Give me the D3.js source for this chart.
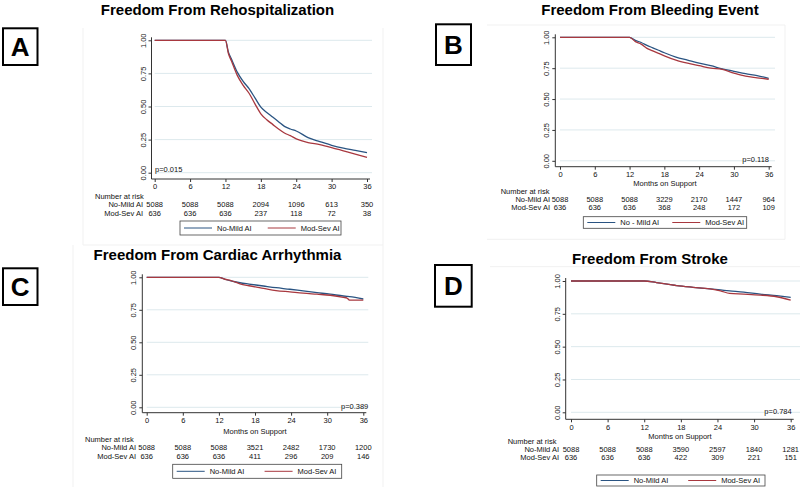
<!DOCTYPE html>
<html><head><meta charset="utf-8">
<script src="https://cdn.jsdelivr.net/npm/d3@7"></script>
<style>body{margin:0;background:#fff}svg{display:block;font-family:"Liberation Sans",Arial,Helvetica,sans-serif}</style>
</head><body><svg id="c" width="800" height="487"></svg>
<script>
// ---------- data ----------
const xTicks = [0, 6, 12, 18, 24, 30, 36];
const yTicks = [0, 0.25, 0.5, 0.75, 1];
const riskTimes = [0, 6, 12, 18, 24, 30, 36];
const seriesNames = ["No-Mild AI", "Mod-Sev AI"];

const titles = ["Freedom From Rehospitalization", "Freedom From Bleeding Event", "Freedom From Cardiac Arrhythmia", "Freedom From Stroke"];
const letters = ["A", "B", "C", "D"];
const pValues = ["p=0.015", "p=0.118", "p=0.389", "p=0.784"];

const rehospMonths  = [0, 12, 12.5, 13, 14, 15, 16, 17, 18, 19, 20, 21, 22, 23, 24, 26, 28, 30, 32, 34, 36];
const rehospNoMild  = [1, 1, 0.91, 0.86, 0.76, 0.69, 0.635, 0.565, 0.495, 0.455, 0.42, 0.385, 0.35, 0.33, 0.315, 0.265, 0.235, 0.207, 0.185, 0.168, 0.151];
const rehospModSev  = [1, 1, 0.90, 0.845, 0.735, 0.66, 0.60, 0.52, 0.445, 0.40, 0.365, 0.33, 0.30, 0.28, 0.255, 0.228, 0.212, 0.19, 0.165, 0.14, 0.116];
const rehospRiskNoMild = [5088, 5088, 5088, 2094, 1096, 613, 350];
const rehospRiskModSev = [636, 636, 636, 237, 118, 72, 38];

const bleedMonths  = [0, 12, 13, 14, 15, 16, 17, 18, 20, 22, 24, 26, 28, 30, 32, 34, 36];
const bleedNoMild  = [1, 1, 0.975, 0.958, 0.935, 0.915, 0.895, 0.875, 0.84, 0.815, 0.79, 0.77, 0.745, 0.725, 0.705, 0.69, 0.668];
const bleedModSev  = [1, 1, 0.965, 0.945, 0.91, 0.89, 0.87, 0.85, 0.815, 0.79, 0.77, 0.75, 0.74, 0.71, 0.685, 0.672, 0.66];
const bleedRiskNoMild = [5088, 5088, 5088, 3229, 2170, 1447, 964];
const bleedRiskModSev = [636, 636, 636, 368, 248, 172, 109];

const arrhyMonths  = [0, 12, 13, 14, 15.5, 17, 19.4, 21.5, 23.8, 26, 28.3, 30.5, 32.7, 33.3, 33.7, 36];
const arrhyNoMild  = [1, 1, 0.985, 0.972, 0.958, 0.948, 0.933, 0.92, 0.908, 0.895, 0.882, 0.87, 0.856, 0.853, 0.851, 0.833];
const arrhyModSev  = [1, 1, 0.985, 0.975, 0.95, 0.935, 0.915, 0.898, 0.888, 0.878, 0.87, 0.862, 0.846, 0.84, 0.825, 0.825];
const arrhyRiskNoMild = [5088, 5088, 5088, 3521, 2482, 1730, 1200];
const arrhyRiskModSev = [636, 636, 636, 411, 296, 209, 146];

const strokeMonths  = [0, 12, 14, 17.3, 20, 22.8, 24.5, 26, 28.3, 31, 33.7, 36];
const strokeNoMild  = [1, 1, 0.988, 0.965, 0.952, 0.94, 0.932, 0.925, 0.915, 0.9, 0.888, 0.876];
const strokeModSev  = [1, 1, 0.988, 0.965, 0.952, 0.94, 0.925, 0.905, 0.9, 0.893, 0.88, 0.855];
const strokeRiskNoMild = [5088, 5088, 5088, 3590, 2597, 1840, 1281];
const strokeRiskModSev = [636, 636, 636, 422, 309, 221, 151];

// ---------- layout / style ----------
const BLUE = "#2a5482", RED = "#a8383f", GRID = "#dde9ed", AX = "#333", TXT = "#111", FAINT = "#f1f1f1";
const FS = 7.5;

const layouts = [
  {x0:154.7, x1:367, yb:172.7, yt:40.3, yAxisX:151.5, xAxisY:179, gridR:372, tx:217.5, ty:15,
   box:[3,28.3,34.5,36.7], monthsLab:null, narX:95, narY:199, r1:207.3, r2:216.3, labR:143,
   leg:[180,221,161,14], pAnchor:"start", px:155, py:172, legNames:["No-Mild AI","Mod-Sev AI"]},
  {x0:560, x1:768.7, yb:160.8, yt:37.3, yAxisX:555.3, xAxisY:166.7, gridR:775, tx:650, ty:15,
   box:[436,24.3,35,40.7], monthsLab:[665,185.5], narX:500.7, narY:193.5, r1:202, r2:210, labR:550,
   leg:[583.3,216.7,163.4,11.6], pAnchor:"end", px:769, py:161.5, legNames:["No - Mild AI","Mod-Sev AI"]},
  {x0:146.7, x1:363.3, yb:407.3, yt:277.3, yAxisX:142.3, xAxisY:412.7, gridR:368.3, tx:217.5, ty:260,
   box:[3,268.3,34.5,36.7], monthsLab:[255,433.5], narX:85, narY:441.5, r1:450, r2:458.5, labR:136,
   leg:[172.7,464.3,169,14], pAnchor:"end", px:368.3, py:409, legNames:["No-Mild AI","Mod-Sev AI"]},
  {x0:571, x1:790.7, yb:412.3, yt:281, yAxisX:565.7, xAxisY:419.3, gridR:800, tx:650, ty:264,
   box:[435,265,36.7,41.7], monthsLab:[680,438.5], narX:507.7, narY:443.5, r1:452, r2:460, labR:559,
   leg:[596.7,475,168.3,11], pAnchor:"end", px:791.7, py:413.5, legNames:["No-Mild AI","Mod-Sev AI"]}
];

const panelData = [
  {months: rehospMonths, s1: rehospNoMild, s2: rehospModSev, k1: rehospRiskNoMild, k2: rehospRiskModSev},
  {months: bleedMonths, s1: bleedNoMild, s2: bleedModSev, k1: bleedRiskNoMild, k2: bleedRiskModSev},
  {months: arrhyMonths, s1: arrhyNoMild, s2: arrhyModSev, k1: arrhyRiskNoMild, k2: arrhyRiskModSev},
  {months: strokeMonths, s1: strokeNoMild, s2: strokeModSev, k1: strokeRiskNoMild, k2: strokeRiskModSev}
];

const svg = d3.select("#c");
svg.append("rect").attr("width",800).attr("height",487).attr("fill","#fff");

// faint graph-region borders
const faint = [[383,28,383,487],[83,245,383,245],[83,28,83,245],[73,245,73,487],
               [487,25,785,25],[487,239.3,785,239.3],[785,25,785,239.3],[490,266.7,800,266.7]];
svg.selectAll(".faint").data(faint).join("line")
  .attr("x1",d=>d[0]).attr("y1",d=>d[1]).attr("x2",d=>d[2]).attr("y2",d=>d[3])
  .attr("stroke",FAINT).attr("stroke-width",1);

function draw(i){
  const L = layouts[i], D = panelData[i];
  const g = svg.append("g");
  const x = d3.scaleLinear().domain([0,36]).range([L.x0, L.x1]);
  const y = d3.scaleLinear().domain([0,1]).range([L.yb, L.yt]);

  // grid
  g.selectAll(".grid").data(yTicks).join("line")
    .attr("x1",L.x0).attr("x2",L.gridR).attr("y1",d=>y(d)).attr("y2",d=>y(d))
    .attr("stroke",GRID).attr("stroke-width",1);

  // y axis
  const ya = g.append("g").attr("transform",`translate(${L.yAxisX},0)`)
    .call(d3.axisLeft(y).tickValues(yTicks).tickFormat(d3.format(".2f")).tickSize(3));
  ya.attr("font-family",null).attr("font-size",null);
  ya.select(".domain").remove();
  ya.selectAll("line").attr("stroke",AX);
  ya.selectAll("text").attr("x",0).attr("dy",0).attr("text-anchor","middle")
    .attr("transform","translate(-6,0) rotate(-90)").attr("font-size",FS).attr("fill",TXT);
  g.append("line").attr("x1",L.yAxisX).attr("x2",L.yAxisX).attr("y1",y(1)-3).attr("y2",L.xAxisY)
    .attr("stroke",AX).attr("stroke-width",1);

  // x axis
  const xa = g.append("g").attr("transform",`translate(0,${L.xAxisY})`)
    .call(d3.axisBottom(x).tickValues(xTicks).tickFormat(d3.format("d")).tickSize(3).tickPadding(2));
  xa.attr("font-family",null).attr("font-size",null);
  xa.select(".domain").remove();
  xa.selectAll("line").attr("stroke",AX);
  xa.selectAll("text").attr("font-size",FS).attr("fill",TXT);
  g.append("line").attr("x1",L.yAxisX).attr("x2",x(36)+3).attr("y1",L.xAxisY).attr("y2",L.xAxisY)
    .attr("stroke",AX).attr("stroke-width",1);

  // curves
  const pts1 = D.months.map((m,j)=>[m,D.s1[j]]);
  const pts2 = D.months.map((m,j)=>[m,D.s2[j]]);
  const line = d3.line().x(d=>x(d[0])).y(d=>y(d[1])).curve(d3.curveMonotoneX);
  g.append("path").datum(pts1).attr("d",line).attr("fill","none").attr("stroke",BLUE).attr("stroke-width",1.3);
  g.append("path").datum(pts2).attr("d",line).attr("fill","none").attr("stroke",RED).attr("stroke-width",1.3);

  // p value
  g.append("text").attr("x",L.px).attr("y",L.py).attr("text-anchor",L.pAnchor)
    .attr("font-size",FS).attr("fill",TXT).text(pValues[i]);

  // months label
  if (i > 0) g.append("text").attr("x",L.monthsLab[0]).attr("y",L.monthsLab[1]).attr("text-anchor","middle")
    .attr("font-size",FS).attr("fill",TXT).text("Months on Support");

  // number at risk
  g.append("text").attr("x",L.narX).attr("y",L.narY).attr("font-size",FS).attr("fill",TXT).text("Number at risk");
  [[D.k1,L.r1,seriesNames[0]],[D.k2,L.r2,seriesNames[1]]].forEach(([arr,yy,nm])=>{
    g.append("text").attr("x",L.labR).attr("y",yy).attr("text-anchor","end").attr("font-size",FS).attr("fill",TXT).text(nm);
    g.selectAll(null).data(arr).join("text")
      .attr("x",(d,j)=>x(riskTimes[j])).attr("y",yy).attr("text-anchor","middle")
      .attr("font-size",FS).attr("fill",TXT).text(d=>d);
  });

  // legend
  const [lx,ly,lw,lh] = L.leg;
  g.append("rect").attr("x",lx).attr("y",ly).attr("width",lw).attr("height",lh)
    .attr("fill","#fff").attr("stroke","#444").attr("stroke-width",0.8);
  const cy = ly + lh/2;
  [[BLUE,0],[RED,0.52]].forEach(([c,off],k)=>{
    const sx = lx + 4 + off*lw;
    g.append("line").attr("x1",sx).attr("x2",sx+28).attr("y1",cy).attr("y2",cy).attr("stroke",c).attr("stroke-width",1);
    g.append("text").attr("x",sx+33).attr("y",cy+2.7).attr("font-size",FS).attr("fill",TXT).text(L.legNames[k]);
  });

  // title
  g.append("text").attr("x",L.tx).attr("y",L.ty).attr("text-anchor","middle")
    .attr("font-size",15).attr("font-weight","bold").attr("fill","#000").text(titles[i]);

  // letter box
  const [bx,by,bw,bh] = L.box;
  g.append("rect").attr("x",bx).attr("y",by).attr("width",bw).attr("height",bh)
    .attr("fill","#fff").attr("stroke","#000").attr("stroke-width",2);
  g.append("text").attr("x",bx+bw/2).attr("y",by+bh/2+9.3).attr("text-anchor","middle")
    .attr("font-size",26).attr("font-weight","bold").attr("fill","#000").text(letters[i]);
}
[0,1,2,3].forEach(draw);
</script></body></html>
